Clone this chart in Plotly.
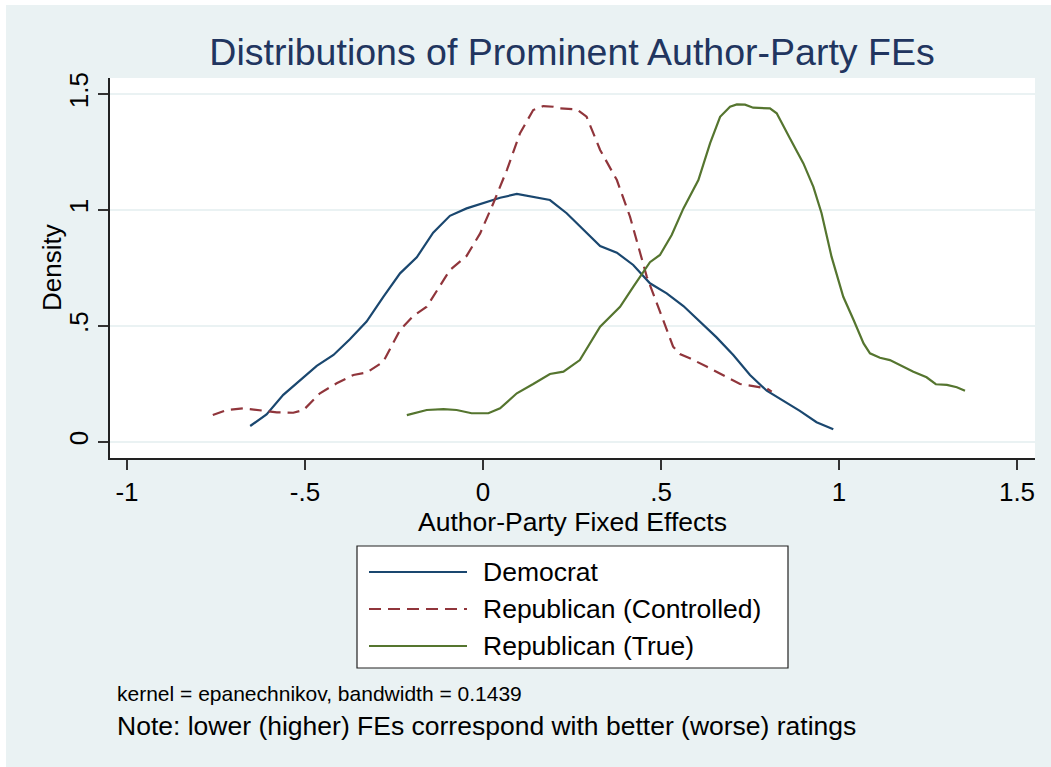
import plotly.graph_objects as go

# Kernel density estimates of author-party fixed effects (x = FE, y = density)
dem_x = [-0.654, -0.608, -0.561, -0.514, -0.467, -0.420, -0.374, -0.327, -0.280, -0.233,
         -0.186, -0.140, -0.093, -0.046, 0.001, 0.048, 0.095, 0.188, 0.235, 0.282,
         0.329, 0.376, 0.422, 0.469, 0.516, 0.563, 0.610, 0.656, 0.703, 0.750,
         0.797, 0.844, 0.890, 0.937, 0.984]
dem_y = [0.069, 0.119, 0.203, 0.264, 0.328, 0.375, 0.443, 0.519, 0.626, 0.727,
         0.796, 0.902, 0.975, 1.007, 1.031, 1.053, 1.069, 1.043, 0.986, 0.914,
         0.845, 0.816, 0.763, 0.684, 0.641, 0.586, 0.519, 0.451, 0.375, 0.289,
         0.221, 0.177, 0.134, 0.085, 0.055]

rep_ctrl_x = [-0.759, -0.720, -0.673, -0.626, -0.579, -0.533, -0.504, -0.458, -0.411, -0.364,
              -0.327, -0.280, -0.233, -0.196, -0.158, -0.093, -0.046, -0.008, 0.029, 0.067,
              0.104, 0.141, 0.169, 0.198, 0.216, 0.263, 0.291, 0.329, 0.376, 0.413,
              0.460, 0.506, 0.534, 0.553, 0.581, 0.628, 0.675, 0.722, 0.759, 0.797, 0.811]
rep_ctrl_y = [0.116, 0.138, 0.145, 0.138, 0.128, 0.126, 0.138, 0.210, 0.253, 0.289,
              0.299, 0.346, 0.483, 0.543, 0.583, 0.741, 0.802, 0.899, 1.029, 1.172,
              1.331, 1.431, 1.448, 1.445, 1.438, 1.434, 1.402, 1.259, 1.129, 0.971,
              0.713, 0.526, 0.411, 0.379, 0.361, 0.325, 0.289, 0.250, 0.241, 0.231, 0.217]

rep_true_x = [-0.214, -0.158, -0.111, -0.074, -0.032, 0.015, 0.048, 0.095, 0.141, 0.188,
              0.226, 0.272, 0.329, 0.385, 0.422, 0.469, 0.497, 0.530, 0.563, 0.605,
              0.638, 0.666, 0.694, 0.713, 0.736, 0.759, 0.806, 0.825, 0.862, 0.900,
              0.928, 0.951, 0.979, 1.012, 1.041, 1.069, 1.087, 1.115, 1.143, 1.171,
              1.209, 1.246, 1.272, 1.303, 1.331, 1.354]
rep_true_y = [0.116, 0.138, 0.142, 0.138, 0.124, 0.124, 0.145, 0.210, 0.250, 0.293,
              0.303, 0.353, 0.497, 0.583, 0.669, 0.775, 0.806, 0.892, 1.007, 1.129,
              1.288, 1.402, 1.445, 1.455, 1.454, 1.441, 1.438, 1.417, 1.309, 1.201,
              1.100, 0.986, 0.799, 0.626, 0.526, 0.425, 0.382, 0.363, 0.353, 0.332,
              0.303, 0.279, 0.249, 0.246, 0.236, 0.221]

series_names = ["Democrat", "Republican (Controlled)", "Republican (True)"]
series_colors = ["#1a476f", "#90353b", "#55752f"]
series_dash = ["solid", "12px,7px", "solid"]

x_ticks = [-1, -0.5, 0, 0.5, 1, 1.5]
x_tick_text = ["-1", "-.5", "0", ".5", "1", "1.5"]
y_ticks = [0, 0.5, 1, 1.5]
y_tick_text = ["0", ".5", "1", "1.5"]

W, H = 1051, 767
L, R, T, B = 110, 1035, 78, 458   # plot area in pixels
FONT = "Helvetica, Liberation Sans, Arial, sans-serif"
BG = "#eaf2f3"


def px(x):
    return (x - L) / (R - L)


def py(y):
    return (B - y) / (B - T)


fig = go.Figure()
for xs, ys, name, col, dash in zip([dem_x, rep_ctrl_x, rep_true_x],
                                   [dem_y, rep_ctrl_y, rep_true_y],
                                   series_names, series_colors, series_dash):
    fig.add_trace(go.Scatter(x=xs, y=ys, mode="lines", name=name,
                             line=dict(color=col, width=2.2, dash=dash),
                             showlegend=False))

shapes = [
    # outer graph region
    dict(type="rect", xref="paper", yref="paper", layer="below",
         x0=px(6), x1=px(W + 5), y0=py(H + 5), y1=py(5),
         fillcolor=BG, line=dict(width=0)),
    # plot region
    dict(type="rect", xref="paper", yref="paper", layer="below",
         x0=0, x1=1, y0=0, y1=1, fillcolor="white", line=dict(width=0)),
    # legend box
    dict(type="rect", xref="paper", yref="paper",
         x0=px(357), x1=px(788), y0=py(668), y1=py(546),
         fillcolor="white", line=dict(color="#222222", width=1.2)),
]

annotations = []
legend_rows = [572, 609, 646]
for name, col, dash, ry in zip(series_names, series_colors, series_dash, legend_rows):
    shapes.append(dict(type="line", xref="paper", yref="paper",
                       x0=px(369), x1=px(467), y0=py(ry), y1=py(ry),
                       line=dict(color=col, width=2.2, dash=dash)))
    annotations.append(dict(text=name, xref="paper", yref="paper",
                            x=px(481), y=py(ry), xanchor="left", yanchor="middle",
                            showarrow=False, font=dict(size=26.5, color="black", family=FONT)))

annotations.append(dict(text="Density", xref="paper", yref="paper",
                        x=px(52), y=py(268), xanchor="center", yanchor="middle",
                        textangle=-90, showarrow=False,
                        font=dict(size=26, color="black", family=FONT)))
annotations.append(dict(text="kernel = epanechnikov, bandwidth = 0.1439",
                        xref="paper", yref="paper", x=px(115), y=py(693),
                        xanchor="left", yanchor="middle", showarrow=False,
                        font=dict(size=21, color="black", family=FONT)))
annotations.append(dict(text="Note: lower (higher) FEs correspond with better (worse) ratings",
                        xref="paper", yref="paper", x=px(115), y=py(726),
                        xanchor="left", yanchor="middle", showarrow=False,
                        font=dict(size=26.5, color="black", family=FONT)))

fig.update_layout(
    width=W, height=H,
    margin=dict(l=L, r=W - R, t=T, b=H - B),
    paper_bgcolor="white",
    plot_bgcolor="white",
    font=dict(family=FONT, color="black", size=26),
    title=dict(text="Distributions of Prominent Author-Party FEs",
               xref="container", yref="container",
               x=572 / W, y=1 - 52 / H, xanchor="center", yanchor="middle",
               font=dict(size=37.5, color="#21355f", family=FONT)),
    shapes=shapes,
    annotations=annotations,
    showlegend=False,
)

fig.update_xaxes(
    range=[(L - 483) / 356, (R - 483) / 356],
    tickvals=x_ticks, ticktext=x_tick_text,
    ticks="outside", ticklen=10, tickwidth=1.5, tickcolor="#333333",
    showline=True, linecolor="#222222", linewidth=1.5,
    showgrid=False, zeroline=False,
    tickfont=dict(size=26),
    title=dict(text="Author-Party Fixed Effects", font=dict(size=26.5), standoff=2),
)
fig.update_yaxes(
    range=[(442 - B) / 232, (442 - T) / 232],
    tickvals=y_ticks, ticktext=y_tick_text, tickangle=-90,
    ticks="outside", ticklen=10, tickwidth=1.5, tickcolor="#333333",
    showline=True, linecolor="#222222", linewidth=1.5,
    showgrid=True, gridcolor=BG, gridwidth=2, zeroline=False,
    tickfont=dict(size=26),
)

fig.write_html("out.html")
